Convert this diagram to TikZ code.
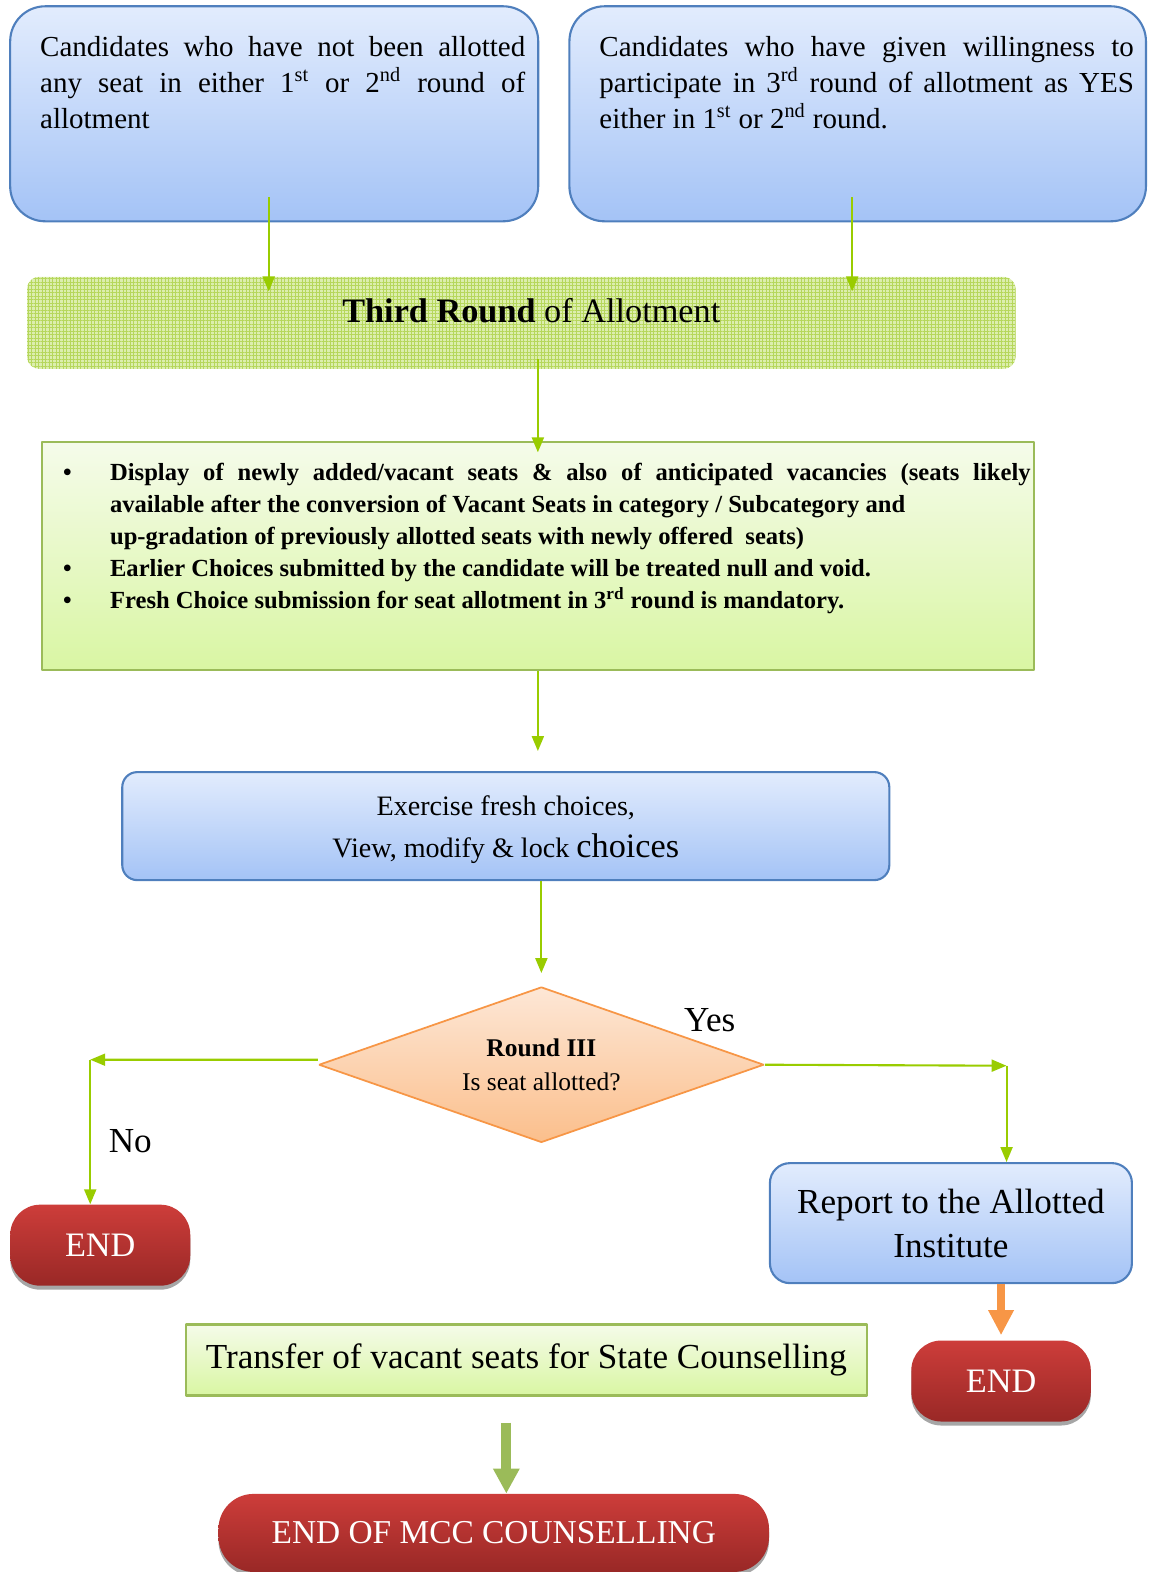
\documentclass[tikz,border=0pt]{standalone}
\usepackage{fontspec}
\setmainfont{Liberation Serif}
\usetikzlibrary{shapes.geometric,arrows.meta,shadows,patterns.meta}

\definecolor{bluetop}{HTML}{E2ECFD}
\definecolor{bluebot}{HTML}{A4C3F6}
\definecolor{blueline}{HTML}{4F7FBD}
\definecolor{limetop}{HTML}{F5FBEA}
\definecolor{limebot}{HTML}{D9F6A3}
\definecolor{oliveline}{HTML}{9BBB59}
\definecolor{arrowgreen}{HTML}{99CC00}
\definecolor{peachtop}{HTML}{FDE7D6}
\definecolor{peachbot}{HTML}{FBBF8C}
\definecolor{orangeline}{HTML}{F79646}
\definecolor{redtop}{HTML}{CD3D3A}
\definecolor{redbot}{HTML}{992826}
\definecolor{gridfill}{HTML}{DCEEAE}
\definecolor{gridline}{HTML}{B6D75C}

\begin{document}
\begin{tikzpicture}[x=0.020052cm, y=-0.020051cm, ->, >={Triangle[width=0.24cm,length=0.3cm]}, line join=bevel]
	\useasboundingbox (0,0) rectangle (1147,1568);

	\tikzstyle{bluebox} = [draw=blueline, line width=1.2pt, top color=bluetop, bottom color=bluebot];
	\tikzstyle{limebox} = [draw=oliveline, line width=1.2pt, top color=limetop, bottom color=limebot];
	\tikzstyle{gridbox} = [rounded corners=0.24cm, preaction={fill=gridfill}, pattern={Hatch[distance=2pt, angle=0, line width=0.5pt]}, pattern color=gridline];
	\tikzstyle{decision} = [shape=diamond, draw=orangeline, line width=1pt, top color=peachtop, bottom color=peachbot, aspect=2.86, inner sep=0pt, minimum width=8.9cm, minimum height=3.11cm, align=center, font=\fontsize{14.5}{19.3}\selectfont];
	\tikzstyle{endbox} = [rounded corners=0.6cm, top color=redtop, bottom color=redbot, text=white, font=\fontsize{19.5}{22}\selectfont, drop shadow={shadow xshift=0pt, shadow yshift=-0.08cm, fill=gray!70, opacity=1}];
	\tikzstyle{flow} = [draw=arrowgreen, line width=1.2pt];
	\tikzstyle{fatorange} = [draw=orangeline, line width=0.16cm, -{Triangle[width=0.48cm,length=0.5cm]}];
	\tikzstyle{fatgreen} = [draw=oliveline, line width=0.2cm, -{Triangle[width=0.5cm,length=0.5cm]}];
	\tikzstyle{answer} = [font=\fontsize{20}{22}\selectfont];

	% top boxes
	\node[bluebox, rounded corners=0.7cm, inner xsep=0.43cm, inner ysep=0.6cm, font=\fontsize{16.5}{20.5}\selectfont] at (273.5,113.5) (boxa)
		{\hspace*{0.17cm}\parbox[t][3.1cm][t]{9.7cm}{Candidates who have not been allotted\linebreak any seat in either 1\textsuperscript{st} or 2\textsuperscript{nd} round of\linebreak allotment}\hspace*{-0.17cm}};
	\node[bluebox, rounded corners=0.7cm, inner xsep=0.42cm, inner ysep=0.6cm, font=\fontsize{16.5}{20.5}\selectfont] at (855.5,113.5) (boxb)
		{\hspace*{0.18cm}\parbox[t][3.1cm][t]{10.69cm}{Candidates who have given willingness to\linebreak participate in 3\textsuperscript{rd} round of allotment as YES\linebreak either in 1\textsuperscript{st} or 2\textsuperscript{nd} round.}\hspace*{-0.18cm}};

	\node[gridbox, minimum width=19.77cm, minimum height=1.84cm, font=\fontsize{19.5}{22}\selectfont] at (520,322) (third)
		{\hspace*{0.4cm}\raisebox{0pt}[0pt][0pt]{\textbf{Third Round} of Allotment}};

	\node[limebox, inner xsep=0.24cm, inner ysep=0.42cm, font=\bfseries\fontsize{14}{18.2}\selectfont] at (536.5,555) (bullets)
		{\hspace*{0.18cm}\parbox[t][3.72cm][t]{19.35cm}{%
		\hangindent=0.94cm\hangafter=1\makebox[0.94cm][l]{\textbullet}Display of newly added/vacant seats \& also of anticipated vacancies (seats likely\linebreak available after the conversion of Vacant Seats in category / Subcategory and\\ up-gradation of previously allotted seats with newly offered\ \ seats)\par
		\hangindent=0.94cm\hangafter=1\makebox[0.94cm][l]{\textbullet}Earlier Choices submitted by the candidate will be treated null and void.\par
		\hangindent=0.94cm\hangafter=1\makebox[0.94cm][l]{\textbullet}Fresh Choice submission for seat allotment in 3\textsuperscript{rd} round is mandatory.}\hspace*{-0.18cm}};

	\node[bluebox, rounded corners=0.3cm, minimum width=15.34cm, minimum height=2.16cm, align=center, font=\fontsize{16}{24}\selectfont] at (504.5,824) (exercise)
		{\rule{0pt}{0.54cm}Exercise fresh choices,\\View, modify \& lock {\fontsize{19.5}{24}\selectfont choices}};

	\node[decision] at (540,1062) (decide) {\textbf{Round III}\\Is seat allotted?};
	\node[answer] at (708,1018) (yeslbl) {Yes};
	\node[answer] at (130,1138) (nolbl) {No};

	\node[endbox, minimum width=3.6cm, minimum height=1.62cm] at (100,1242) (endl) {END};
	\node[bluebox, rounded corners=0.4cm, minimum width=7.24cm, minimum height=2.4cm, align=center, font=\fontsize{20}{25}\selectfont] at (948.5,1220) (report)
		{Report to the Allotted\\Institute};
	\node[endbox, minimum width=3.59cm, minimum height=1.62cm] at (998.5,1377.5) (endr) {END};
	\node[limebox, minimum width=13.63cm, minimum height=1.42cm, font=\fontsize{20}{22}\selectfont] at (525,1356.5) (transfer)
		{Transfer of vacant seats for State Counselling};
	\node[endbox, rounded corners=0.7cm, minimum width=11.01cm, minimum height=1.56cm, font=\fontsize{19}{22}\selectfont] at (492.5,1529) (endmcc) {END OF MCC COUNSELLING};

	\coordinate (nocorner) at (90,1057);
	\coordinate (yescorner) at (1004,1063);

	\draw[flow] ([xshift=-0.11cm,yshift=0.5cm]boxa.south) -- ([xshift=-0.11cm,yshift=-0.3cm]boxa.south |- third.north);
	\draw[flow] ([xshift=-0.11cm,yshift=0.5cm]boxb.south) -- ([xshift=-0.11cm,yshift=-0.3cm]boxb.south |- third.north);
	\draw[flow] ([yshift=0.2cm]bullets.north |- third.south) -- ([yshift=-0.22cm]bullets.north);
	\draw[flow] (bullets.south) -- ([yshift=0.4cm]bullets.south |- exercise.north);
	\draw[flow] (decide.north |- exercise.south) -- ([yshift=0.26cm]decide.north);
	\draw[flow] ([yshift=0.1cm]decide.west) -- (nocorner);
	\draw[flow] (nocorner) -- (nocorner |- endl.north);
	\draw[flow] (decide.east) -- (yescorner);
	\draw[flow] (yescorner) -- (yescorner |- report.north);
	\draw[fatorange] (report.south -| endr.north) -- ([yshift=0.1cm]endr.north);
	\draw[fatgreen] ([xshift=-0.4cm,yshift=-0.52cm]transfer.south) -- ([xshift=-0.4cm]transfer.south |- endmcc.north);
\end{tikzpicture}
\end{document}
